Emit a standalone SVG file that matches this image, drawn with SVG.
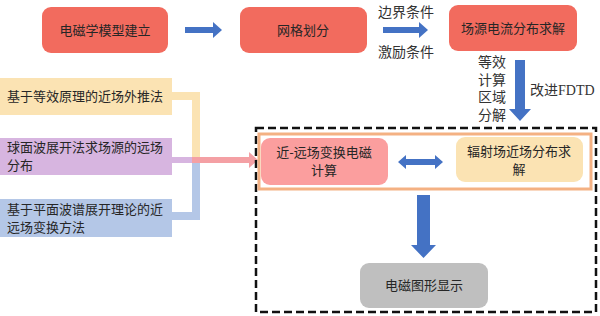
<svg xmlns="http://www.w3.org/2000/svg" width="600" height="316" viewBox="0 0 600 316">
<style>
text{font-family:"Noto Sans CJK SC","Liberation Sans",sans-serif;font-size:13px;fill:#262626}
.serif{font-family:"Liberation Serif","Noto Sans CJK SC",serif;font-size:14px;fill:#333}
.red{fill:#F26B5E}
.arrow{fill:#4472C4}
</style>
<rect width="600" height="316" fill="#fff"/>
<g id="connectors">
<path d="M185,27 H213 V22 L222,30 L213,38 V33 H185 Z" class="arrow"/>
<path d="M383,27 H419 V22 L428,30 L419,38 V33 H383 Z" class="arrow"/>
<path d="M515,60 H525 V109 H531 L520,121 L509,109 H515 Z" class="arrow"/>
<path d="M398,162 L406,155 V159 H435 V155 L443,162 L435,169 V165 H406 V169 Z" class="arrow"/>
<path d="M417,195 H430 V245 H436 L423.5,258 L411,245 H417 Z" class="arrow"/>
<path d="M170,96 H196 V160" fill="none" stroke="#FBE3B3" stroke-width="8"/>
<path d="M170,216 H196 V160" fill="none" stroke="#B4C7E7" stroke-width="8"/>
<path d="M170,160 H196" fill="none" stroke="#D7B5E0" stroke-width="6"/>
<path d="M192,157 H249 V152 L258,160 L249,168 V163 H192 Z" fill="#F4A0A4"/>
<text class="serif" x="378" y="17">边界条件</text>
<text class="serif" x="378" y="57">激励条件</text>
<text class="serif" x="478" y="67">等效</text>
<text class="serif" x="478" y="85">计算</text>
<text class="serif" x="478" y="102">区域</text>
<text class="serif" x="478" y="120">分解</text>
<text class="serif" x="530" y="95">改进FDTD</text>
</g>
<g id="frame">
<rect x="256" y="128" width="340" height="184" fill="none" stroke="#111" stroke-width="2.5" stroke-dasharray="8,4"/>
<rect x="259" y="134" width="332" height="55" fill="none" stroke="#F4B183" stroke-width="3"/>
</g>
<g id="n1"><rect x="42" y="7" width="126" height="46" rx="9" class="red"/><text x="105" y="35" text-anchor="middle">电磁学模型建立</text></g>
<g id="n2"><rect x="240" y="7" width="127" height="46" rx="9" class="red"/><text x="303" y="35" text-anchor="middle">网格划分</text></g>
<g id="n3"><rect x="449" y="5" width="128" height="46" rx="9" class="red"/><text x="513" y="33" text-anchor="middle">场源电流分布求解</text></g>
<g id="l1"><rect x="0" y="78" width="172" height="37" fill="#FBE3B3"/><text x="7" y="101">基于等效原理的近场外推法</text></g>
<g id="l2"><rect x="0" y="138" width="172" height="37" fill="#D7B5E0"/><text x="7" y="152">球面波展开法求场源的远场</text><text x="7" y="170">分布</text></g>
<g id="l3"><rect x="0" y="199" width="172" height="38" fill="#B4C7E7"/><text x="7" y="214">基于平面波谱展开理论的近</text><text x="7" y="232">远场变换方法</text></g>
<g id="c1"><rect x="261" y="138" width="127" height="47" rx="9" fill="#FB9E9E"/><text x="324" y="157" text-anchor="middle">近-远场变换电磁</text><text x="324" y="175" text-anchor="middle">计算</text></g>
<g id="c2"><rect x="456" y="137" width="127" height="45" rx="9" fill="#FBE3B3"/><text x="519" y="156" text-anchor="middle">辐射场近场分布求</text><text x="519" y="174" text-anchor="middle">解</text></g>
<g id="c3"><rect x="360" y="263" width="128" height="45" rx="9" fill="#BFBFBF"/><text x="424" y="290" text-anchor="middle">电磁图形显示</text></g>
</svg>
